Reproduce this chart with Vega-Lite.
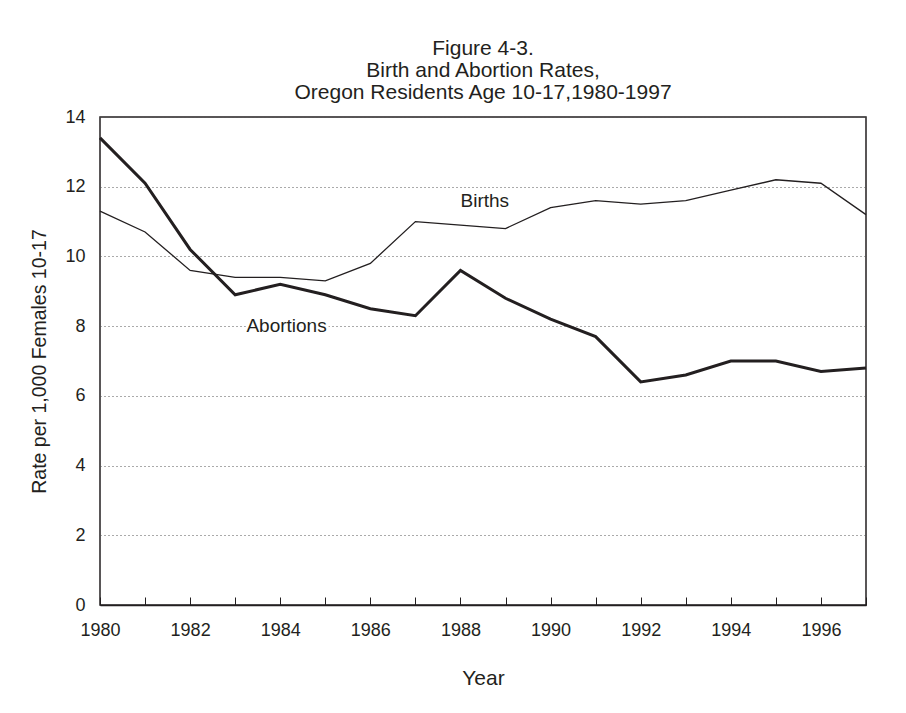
{
  "$schema": "https://vega.github.io/schema/vega-lite/v6.json",
  "width": 766,
  "height": 488,
  "autosize": "none",
  "padding": {"left": 100, "top": 117, "right": 40, "bottom": 108},
  "background": "white",
  "config": {
    "font": "Liberation Sans",
    "view": {"stroke": "#231f20", "strokeWidth": 1.5},
    "axis": {"labelFont": "Liberation Sans", "titleFont": "Liberation Sans", "labelColor": "#231f20", "titleColor": "#231f20", "titleFontWeight": "normal"}
  },
  "title": {
    "text": ["Figure 4-3.", "Birth and Abortion Rates,", "Oregon Residents Age 10-17,1980-1997"],
    "fontSize": 21,
    "fontWeight": "normal",
    "color": "#231f20",
    "lineHeight": 22,
    "offset": 5,
    "anchor": "middle"
  },
  "datasets": {
    "rates": [
      {"year": 1980, "series": "Births", "rate": 11.3},
      {"year": 1981, "series": "Births", "rate": 10.7},
      {"year": 1982, "series": "Births", "rate": 9.6},
      {"year": 1983, "series": "Births", "rate": 9.4},
      {"year": 1984, "series": "Births", "rate": 9.4},
      {"year": 1985, "series": "Births", "rate": 9.3},
      {"year": 1986, "series": "Births", "rate": 9.8},
      {"year": 1987, "series": "Births", "rate": 11.0},
      {"year": 1988, "series": "Births", "rate": 10.9},
      {"year": 1989, "series": "Births", "rate": 10.8},
      {"year": 1990, "series": "Births", "rate": 11.4},
      {"year": 1991, "series": "Births", "rate": 11.6},
      {"year": 1992, "series": "Births", "rate": 11.5},
      {"year": 1993, "series": "Births", "rate": 11.6},
      {"year": 1994, "series": "Births", "rate": 11.9},
      {"year": 1995, "series": "Births", "rate": 12.2},
      {"year": 1996, "series": "Births", "rate": 12.1},
      {"year": 1997, "series": "Births", "rate": 11.2},
      {"year": 1980, "series": "Abortions", "rate": 13.4},
      {"year": 1981, "series": "Abortions", "rate": 12.1},
      {"year": 1982, "series": "Abortions", "rate": 10.2},
      {"year": 1983, "series": "Abortions", "rate": 8.9},
      {"year": 1984, "series": "Abortions", "rate": 9.2},
      {"year": 1985, "series": "Abortions", "rate": 8.9},
      {"year": 1986, "series": "Abortions", "rate": 8.5},
      {"year": 1987, "series": "Abortions", "rate": 8.3},
      {"year": 1988, "series": "Abortions", "rate": 9.6},
      {"year": 1989, "series": "Abortions", "rate": 8.8},
      {"year": 1990, "series": "Abortions", "rate": 8.2},
      {"year": 1991, "series": "Abortions", "rate": 7.7},
      {"year": 1992, "series": "Abortions", "rate": 6.4},
      {"year": 1993, "series": "Abortions", "rate": 6.6},
      {"year": 1994, "series": "Abortions", "rate": 7.0},
      {"year": 1995, "series": "Abortions", "rate": 7.0},
      {"year": 1996, "series": "Abortions", "rate": 6.7},
      {"year": 1997, "series": "Abortions", "rate": 6.8}
    ],
    "labels": [
      {"year": 1988.54, "rate": 11.6, "label": "Births"},
      {"year": 1984.14, "rate": 8.0, "label": "Abortions"}
    ]
  },
  "layer": [
    {
      "data": {"name": "rates"},
      "mark": {"type": "line", "color": "#231f20"},
      "encoding": {
        "x": {
          "field": "year", "type": "quantitative",
          "scale": {"domain": [1980, 1997], "nice": false, "zero": false},
          "axis": {
            "title": "Year", "titleFontSize": 21, "titlePadding": 28,
            "values": [1980,1981,1982,1983,1984,1985,1986,1987,1988,1989,1990,1991,1992,1993,1994,1995,1996,1997],
            "labelExpr": "datum.value % 2 == 0 && datum.value < 1997 ? format(datum.value, 'd') : ''",
            "labelFontSize": 18, "labelPadding": 24, "labelFlush": false,
            "tickSize": -8, "tickColor": "#231f20", "domainColor": "#231f20", "domainWidth": 1.5,
            "grid": false
          }
        },
        "y": {
          "field": "rate", "type": "quantitative",
          "scale": {"domain": [0, 14], "nice": false},
          "axis": {
            "title": "Rate per 1,000 Females 10-17", "titleFontSize": 19.5, "titlePadding": 15,
            "values": [0, 2, 4, 6, 8, 10, 12, 14],
            "labelFontSize": 18, "labelPadding": 15, "ticks": false, "domain": false,
            "grid": true, "gridColor": "#555555", "gridDash": [1, 3], "gridWidth": 1
          }
        },
        "strokeWidth": {
          "field": "series", "type": "nominal",
          "scale": {"domain": ["Births", "Abortions"], "range": [1.3, 3]},
          "legend": null
        },
        "detail": {"field": "series"}
      }
    },
    {
      "data": {"name": "labels"},
      "mark": {"type": "text", "fontSize": 19, "color": "white", "stroke": "white", "strokeWidth": 5, "font": "Liberation Sans"},
      "encoding": {
        "x": {"field": "year", "type": "quantitative"},
        "y": {"field": "rate", "type": "quantitative"},
        "text": {"field": "label"}
      }
    },
    {
      "data": {"name": "labels"},
      "mark": {"type": "text", "fontSize": 19, "color": "#231f20", "font": "Liberation Sans"},
      "encoding": {
        "x": {"field": "year", "type": "quantitative"},
        "y": {"field": "rate", "type": "quantitative"},
        "text": {"field": "label"}
      }
    }
  ]
}
